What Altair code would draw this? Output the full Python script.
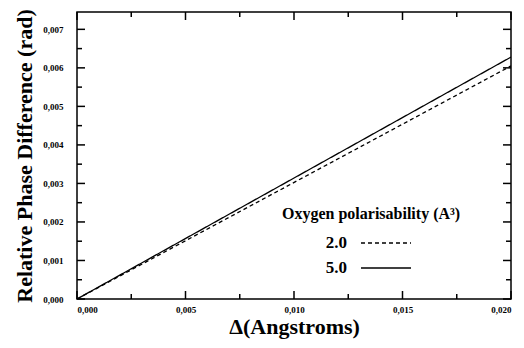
import altair as alt
import pandas as pd

# ---- data ----
x_vals = [0.0, 0.020]
y_dashed = [0.0, 0.00605]   # polarisability 2.0
y_solid = [0.0, 0.00628]    # polarisability 5.0
series_names = ["2.0", "5.0"]

x_major = [0.000, 0.005, 0.010, 0.015, 0.020]
x_minor = [0.0025, 0.0075, 0.0125, 0.0175]
y_major = [0.000, 0.001, 0.002, 0.003, 0.004, 0.005, 0.006, 0.007]
y_minor = [0.0005, 0.0015, 0.0025, 0.0035, 0.0045, 0.0055, 0.0065]

rows = []
for name, ys in zip(series_names, [y_dashed, y_solid]):
    for xv, yv in zip(x_vals, ys):
        rows.append({"x": xv, "y": yv, "series": name})
df = pd.DataFrame(rows)

W, H = 434, 287
FONT = "Liberation Serif"
xs = alt.Scale(domain=[0, 0.02], nice=False, zero=False)
ys = alt.Scale(domain=[0, 0.00745], nice=False, zero=False)
lab = "replace(format(datum.value, '.3f'), '.', ',')"

xaxis = alt.Axis(
    orient="bottom", values=x_major, labelExpr=lab, ticks=False, domain=False,
    grid=False, labelPadding=6, labelFont=FONT, labelFontSize=9,
    labelFontWeight="bold", labelColor="black", title="Δ(Angstroms)",
    titleFont=FONT, titleFontSize=22, titleFontWeight="bold", titleColor="black",
    titlePadding=2)
yaxis = alt.Axis(
    orient="left", values=y_major, labelExpr=lab, ticks=False, domain=False,
    grid=False, labelPadding=14, labelFont=FONT, labelFontSize=9,
    labelFontWeight="bold", labelColor="black",
    title="Relative Phase Difference (rad)", titleFont=FONT, titleFontSize=22,
    titleFontWeight="bold", titleColor="black", titlePadding=6)

lines = alt.Chart(df).mark_line(color="black", strokeWidth=1.3, clip=True).encode(
    x=alt.X("x:Q", scale=xs, axis=xaxis),
    y=alt.Y("y:Q", scale=ys, axis=yaxis),
    strokeDash=alt.StrokeDash("series:N", scale=alt.Scale(domain=series_names, range=[[4, 3], [1, 0]]),
        legend=alt.Legend(orient="none", legendX=205, legendY=194,
                          title="Oxygen polarisability (A³)", titleFont=FONT,
                          titleFontSize=16, titleFontWeight="bold", titleColor="black",
                          titleLimit=400, labelLimit=200,
                          labelFont=FONT, labelFontSize=17, labelFontWeight="bold",
                          labelColor="black", symbolType="M-1.667,0H1.667", symbolSize=900,
                          symbolStrokeWidth=1.3, symbolStrokeColor="black",
                          labelAlign="right",
                          labelOffset=alt.ExprRef("-55"),
                          symbolOffset=88,
                          rowPadding=1,
                          titlePadding=5)),
)


def xticks(vals, length, edge_top):
    d = pd.DataFrame({"x": vals})
    y0, y1 = (0, length) if edge_top else (H, H - length)
    return alt.Chart(d).mark_rule(color="#000000", strokeWidth=1.5).encode(
        x=alt.X("x:Q", scale=xs, axis=xaxis), y=alt.value(y0), y2=alt.value(y1))


def yticks(vals, length, edge_right):
    d = pd.DataFrame({"y": vals})
    x0, x1 = (W, W - length) if edge_right else (0, length)
    return alt.Chart(d).mark_rule(color="#000000", strokeWidth=1.5).encode(
        y=alt.Y("y:Q", scale=ys, axis=yaxis), x=alt.value(x0), x2=alt.value(x1))


tick_layers = [
    xticks(x_major, 8, False), xticks(x_minor, 5, False),
    xticks(x_major, 8, True), xticks(x_minor, 5, True),
    yticks(y_major, 8, False), yticks(y_minor, 5, False),
    yticks(y_major, 8, True), yticks(y_minor, 5, True),
]

chart = alt.layer(*tick_layers, lines).properties(
    width=W, height=H,
    autosize=alt.AutoSizeParams(type="none"),
    padding={"left": 69, "top": 4, "right": 5, "bottom": 40},
    background="white",
).configure_view(stroke="black", strokeWidth=1.5)

chart.save("out.html", embed_options={"renderer": "svg", "actions": False})
